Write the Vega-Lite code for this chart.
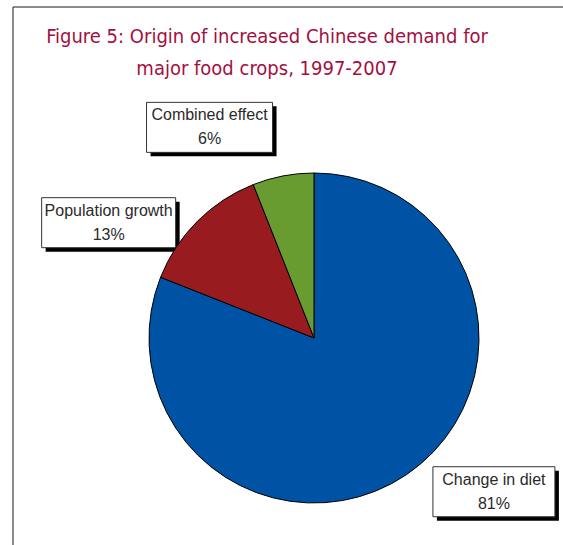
{
  "$schema": "https://vega.github.io/schema/vega-lite/v6.json",
  "width": 550,
  "height": 538,
  "autosize": "none",
  "padding": {"left": 13, "top": 7, "right": 0, "bottom": 0},
  "background": "white",
  "config": {"view": {"stroke": null}},
  "title": {
    "text": ["Figure 5: Origin of increased Chinese demand for", "major food crops, 1997-2007"],
    "orient": "top",
    "anchor": "middle",
    "frame": "group",
    "baseline": "top",
    "offset": -72,
    "dx": -21,
    "font": "DejaVu Sans Condensed",
    "fontSize": 20,
    "fontWeight": "normal",
    "lineHeight": 32,
    "color": "#A3103F"
  },
  "data": {"values": [
    {"category": "Change in diet", "share": 81},
    {"category": "Population growth", "share": 13},
    {"category": "Combined effect", "share": 6}
  ]},
  "transform": [
    {"window": [{"op": "row_number", "as": "idx"}]},
    {"window": [{"op": "sum", "field": "share", "as": "cum"}], "sort": [{"field": "idx"}], "frame": [null, 0]},
    {"joinaggregate": [{"op": "sum", "field": "share", "as": "total"}]},
    {"calculate": "((datum.cum - datum.share / 2) / datum.total) * 2 * PI - 0.27", "as": "ang"},
    {"calculate": "236 * sin(datum.ang)", "as": "lx"},
    {"calculate": "236 * cos(datum.ang) - 1", "as": "ly"},
    {"calculate": "(4 * length(datum.category) + 66) / 2", "as": "hw"},
    {"calculate": "datum.lx - datum.hw", "as": "bx1"},
    {"calculate": "datum.lx + datum.hw", "as": "bx2"},
    {"calculate": "datum.ly + 25", "as": "by1"},
    {"calculate": "datum.ly - 25", "as": "by2"},
    {"calculate": "datum.bx1 + 4", "as": "sx1"},
    {"calculate": "datum.bx2 + 4", "as": "sx2"},
    {"calculate": "datum.by1 - 4", "as": "sy1"},
    {"calculate": "datum.by2 - 4", "as": "sy2"},
    {"calculate": "datum.category + '\\n' + datum.share + '%'", "as": "lbl"}
  ],
  "layer": [
    {
      "data": {"values": [{"edge": "left"}]},
      "mark": {"type": "rule", "color": "#1a1a1a", "strokeWidth": 1},
      "encoding": {
        "x": {"datum": -301, "type": "quantitative", "scale": {"domain": [-301, 249], "nice": false, "zero": false}, "axis": null},
        "y": {"datum": -207, "type": "quantitative", "scale": {"domain": [-207, 331], "nice": false, "zero": false}, "axis": null},
        "y2": {"datum": 331}
      }
    },
    {
      "data": {"values": [{"edge": "top"}]},
      "mark": {"type": "rule", "color": "#1a1a1a", "strokeWidth": 1},
      "encoding": {
        "x": {"datum": -301, "type": "quantitative", "scale": {"domain": [-301, 249], "nice": false, "zero": false}, "axis": null},
        "x2": {"datum": 249},
        "y": {"datum": 331, "type": "quantitative", "scale": {"domain": [-207, 331], "nice": false, "zero": false}, "axis": null}
      }
    },
    {
      "mark": {"type": "rect", "fill": "#000000"},
      "encoding": {
        "x": {"field": "sx1", "type": "quantitative", "scale": {"domain": [-301, 249], "nice": false, "zero": false}, "axis": null},
        "x2": {"field": "sx2"},
        "y": {"field": "sy1", "type": "quantitative", "scale": {"domain": [-207, 331], "nice": false, "zero": false}, "axis": null},
        "y2": {"field": "sy2"}
      }
    },
    {
      "mark": {"type": "rect", "fill": "#ffffff", "stroke": "#333333", "strokeWidth": 1},
      "encoding": {
        "x": {"field": "bx1", "type": "quantitative", "scale": {"domain": [-301, 249], "nice": false, "zero": false}, "axis": null},
        "x2": {"field": "bx2"},
        "y": {"field": "by1", "type": "quantitative", "scale": {"domain": [-207, 331], "nice": false, "zero": false}, "axis": null},
        "y2": {"field": "by2"}
      }
    },
    {
      "mark": {"type": "arc", "outerRadius": 165, "stroke": "#000000", "strokeWidth": 1},
      "encoding": {
        "theta": {"field": "share", "type": "quantitative", "stack": true},
        "order": {"field": "idx", "type": "quantitative"},
        "color": {
          "field": "category",
          "type": "nominal",
          "scale": {"domain": ["Change in diet", "Population growth", "Combined effect"], "range": ["#0053A4", "#981B20", "#689C31"]},
          "legend": null
        },
        "x": {"datum": 0, "type": "quantitative", "scale": {"domain": [-301, 249], "nice": false, "zero": false}, "axis": null},
        "y": {"datum": 0, "type": "quantitative", "scale": {"domain": [-207, 331], "nice": false, "zero": false}, "axis": null}
      }
    },
    {
      "mark": {"type": "text", "lineBreak": "\n", "font": "Liberation Sans", "fontSize": 16, "lineHeight": 24, "color": "#2a2a2a", "align": "center", "baseline": "middle", "dy": -12},
      "encoding": {
        "text": {"field": "lbl"},
        "x": {"field": "lx", "type": "quantitative", "scale": {"domain": [-301, 249], "nice": false, "zero": false}, "axis": null},
        "y": {"field": "ly", "type": "quantitative", "scale": {"domain": [-207, 331], "nice": false, "zero": false}, "axis": null}
      }
    }
  ]
}
